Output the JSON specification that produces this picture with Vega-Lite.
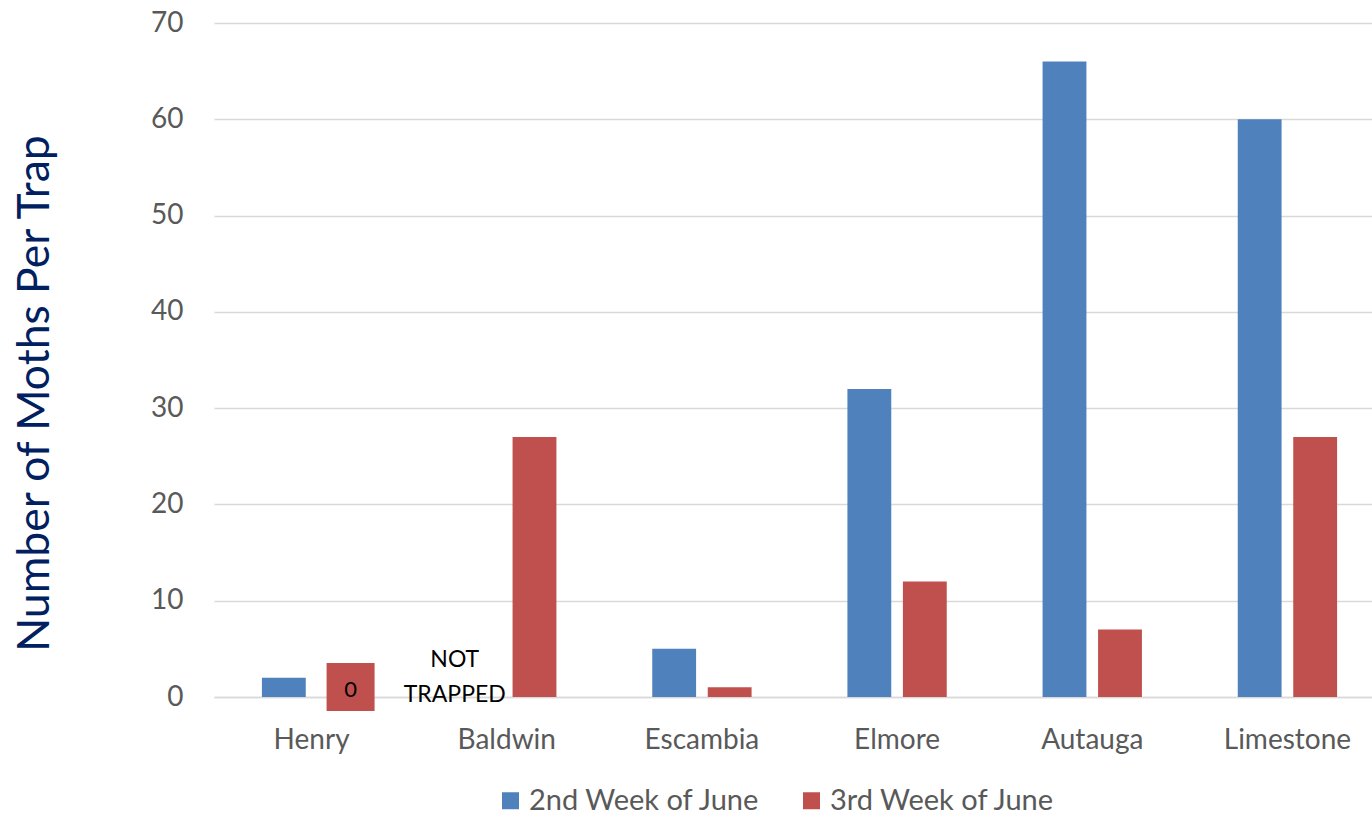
{
  "$schema": "https://vega.github.io/schema/vega-lite/v6.json",
  "width": 1158,
  "height": 674,
  "autosize": "none",
  "padding": {"left": 214, "top": 23, "right": 0, "bottom": 119},
  "background": "white",
  "config": {"font": "Lato", "view": {"stroke": null}},
  "data": {"values": [
    {"county": "Henry", "week": "2nd Week of June", "moths": 2},
    {"county": "Henry", "week": "3rd Week of June", "moths": 0, "label": "0"},
    {"county": "Baldwin", "week": "2nd Week of June", "moths": null, "label": "NOT TRAPPED"},
    {"county": "Baldwin", "week": "3rd Week of June", "moths": 27},
    {"county": "Escambia", "week": "2nd Week of June", "moths": 5},
    {"county": "Escambia", "week": "3rd Week of June", "moths": 1},
    {"county": "Elmore", "week": "2nd Week of June", "moths": 32},
    {"county": "Elmore", "week": "3rd Week of June", "moths": 12},
    {"county": "Autauga", "week": "2nd Week of June", "moths": 66},
    {"county": "Autauga", "week": "3rd Week of June", "moths": 7},
    {"county": "Limestone", "week": "2nd Week of June", "moths": 60},
    {"county": "Limestone", "week": "3rd Week of June", "moths": 27}
  ]},
  "encoding": {
    "x": {
      "field": "county", "type": "nominal",
      "sort": ["Henry", "Baldwin", "Escambia", "Elmore", "Autauga", "Limestone"],
      "scale": {"range": [0, 1171], "paddingInner": 0.491, "paddingOuter": 0.2455},
      "axis": {"title": null, "ticks": false, "tickSize": 0, "labelPadding": 29, "labelFontSize": 28, "labelColor": "#595959", "labelAngle": 0, "domainColor": "#D9D9D9", "domainWidth": 1.5}
    }
  },
  "layer": [
    {
      "mark": {"type": "bar"},
      "encoding": {
        "xOffset": {"field": "week", "type": "nominal", "scale": {"paddingInner": 0.21}},
        "y": {
          "field": "moths", "type": "quantitative",
          "scale": {"domain": [0, 70]},
          "axis": {"title": "Number of Moths Per Trap", "values": [0, 10, 20, 30, 40, 50, 60, 70], "domain": false, "ticks": false, "labelPadding": 31, "labelFontSize": 28, "labelColor": "#595959", "gridColor": "#D9D9D9", "gridWidth": 1.5, "titleFontSize": 44.5, "titleColor": "#002060", "titleFontWeight": "normal", "titleX": -166, "titleY": 370, "titleAngle": -90, "titleBaseline": "alphabetic", "titleAlign": "center"}
        },
        "color": {
          "field": "week", "type": "nominal",
          "scale": {"range": ["#4F81BD", "#C0504D"]},
          "legend": {"title": null, "orient": "none", "legendX": 282, "legendY": 763, "direction": "horizontal", "symbolType": "square", "symbolSize": 289, "symbolStrokeWidth": 0, "symbolOpacity": 1, "labelFontSize": 29, "labelLimit": 0, "labelColor": "#595959", "labelOffset": 4, "columnPadding": 36}
        }
      }
    },
    {
      "transform": [{"filter": "datum.label === '0'"}],
      "mark": {"type": "point", "shape": "square", "size": 2304, "filled": true, "color": "#C0504D", "opacity": 1, "xOffset": 39, "yOffset": -10},
      "encoding": {"y": {"field": "moths", "type": "quantitative"}}
    },
    {
      "transform": [{"filter": "datum.label === '0'"}],
      "mark": {"type": "text", "fontSize": 22, "color": "black", "xOffset": 39, "yOffset": -7},
      "encoding": {"y": {"field": "moths", "type": "quantitative"}, "text": {"field": "label"}}
    },
    {
      "transform": [{"filter": "datum.label === 'NOT TRAPPED'"}],
      "mark": {"type": "text", "fontSize": 23, "color": "black", "lineBreak": " ", "lineHeight": 35, "xOffset": -52, "yOffset": -37},
      "encoding": {"y": {"datum": 0}, "text": {"field": "label"}}
    }
  ]
}
